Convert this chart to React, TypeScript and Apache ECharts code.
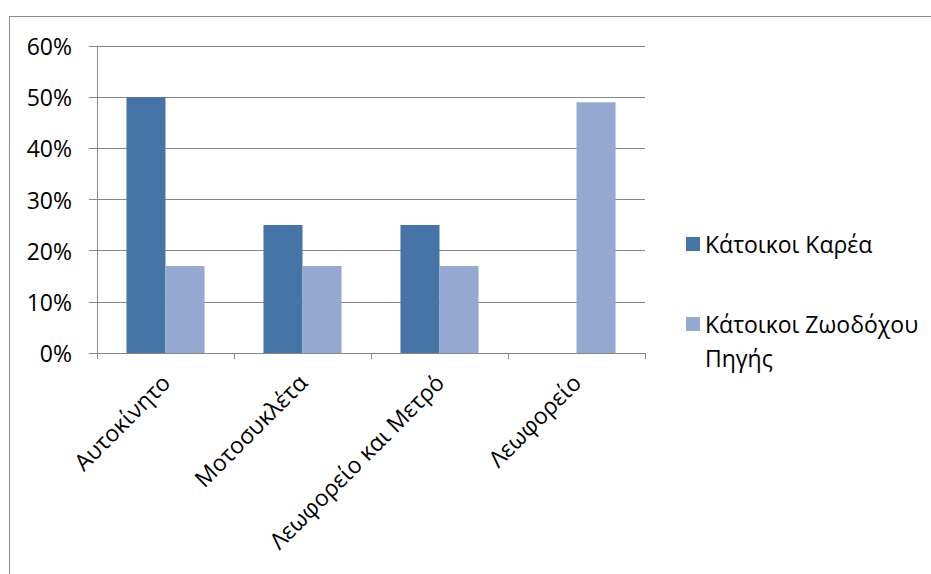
import React, { useEffect, useRef } from "react";
import * as echarts from "echarts";

// Transport mode shares (percent) for two groups of residents
const categories = ["Αυτοκίνητο", "Μοτοσυκλέτα", "Λεωφορείο και Μετρό", "Λεωφορείο"];
const seriesNames = ["Κάτοικοι Καρέα", "Κάτοικοι Ζωοδόχου Πηγής"];
const kareaValues = [50, 25, 25, 0];
const zoodochouValues = [17, 17, 17, 49];
const yTickValues = [0, 10, 20, 30, 40, 50, 60];

const FONT = '"Open Sans", "Noto Sans", sans-serif';
const FONT_SIZE = 23;
const LINE_H = 34;
const GRID_COLOR = "#878787";
const COLORS = ["#4674A7", "#95A9D0"];

export default function App() {
  const ref = useRef<HTMLDivElement>(null);

  useEffect(() => {
    if (!ref.current) return;
    const chart = echarts.init(ref.current, null, { renderer: "svg" });
    const legendText = { fontFamily: FONT, fontSize: FONT_SIZE, color: "#000", lineHeight: LINE_H };
    chart.setOption({
      animation: false,
      backgroundColor: "#ffffff",
      color: COLORS,
      textStyle: { fontFamily: FONT },
      graphic: [
        {
          type: "rect",
          shape: { x: 9.5, y: 16.5, width: 1000, height: 1000 },
          style: { fill: "none", stroke: "#8a8a8a", lineWidth: 1 },
          silent: true,
        },
      ],
      grid: { left: 97, right: 286, top: 46, bottom: 221, containLabel: false },
      legend: [
        {
          orient: "vertical",
          left: 686,
          top: 227,
          padding: 0,
          itemWidth: 14,
          itemHeight: 14,
          icon: "rect",
          textStyle: legendText,
          data: [seriesNames[0]],
        },
        {
          orient: "vertical",
          left: 686,
          top: 273,
          padding: 0,
          itemWidth: 14,
          itemHeight: 14,
          icon: "rect",
          textStyle: legendText,
          // leading blank line keeps the first wrapped line level with the swatch
          formatter: () => "\nΚάτοικοι Ζωοδόχου\nΠηγής",
          data: [seriesNames[1]],
        },
      ],
      xAxis: {
        type: "category",
        data: categories,
        axisLine: { show: true, lineStyle: { color: GRID_COLOR, width: 1 } },
        axisTick: { show: true, alignWithLabel: false, length: 6, lineStyle: { color: GRID_COLOR } },
        axisLabel: {
          rotate: 45,
          interval: 0,
          margin: 25,
          fontFamily: FONT,
          fontSize: FONT_SIZE,
          color: "#000",
        },
      },
      yAxis: {
        type: "value",
        min: yTickValues[0],
        max: yTickValues[yTickValues.length - 1],
        interval: 10,
        axisLine: { show: true, lineStyle: { color: GRID_COLOR, width: 1 } },
        axisTick: { show: true, length: 8, lineStyle: { color: GRID_COLOR } },
        splitLine: { show: true, lineStyle: { color: GRID_COLOR, width: 1 } },
        axisLabel: {
          formatter: "{value}%",
          margin: 25,
          fontFamily: FONT,
          fontSize: FONT_SIZE,
          color: "#000",
        },
      },
      series: [
        {
          name: seriesNames[0],
          type: "bar",
          data: kareaValues,
          barGap: "0%",
          barCategoryGap: "43%",
          itemStyle: { color: COLORS[0] },
        },
        {
          name: seriesNames[1],
          type: "bar",
          data: zoodochouValues,
          barGap: "0%",
          barCategoryGap: "43%",
          itemStyle: { color: COLORS[1] },
        },
      ],
    });
    return () => chart.dispose();
  }, []);

  return (
    <div
      ref={ref}
      style={{ position: "fixed", left: 0, top: 0, width: 931, height: 574 }}
    />
  );
}
